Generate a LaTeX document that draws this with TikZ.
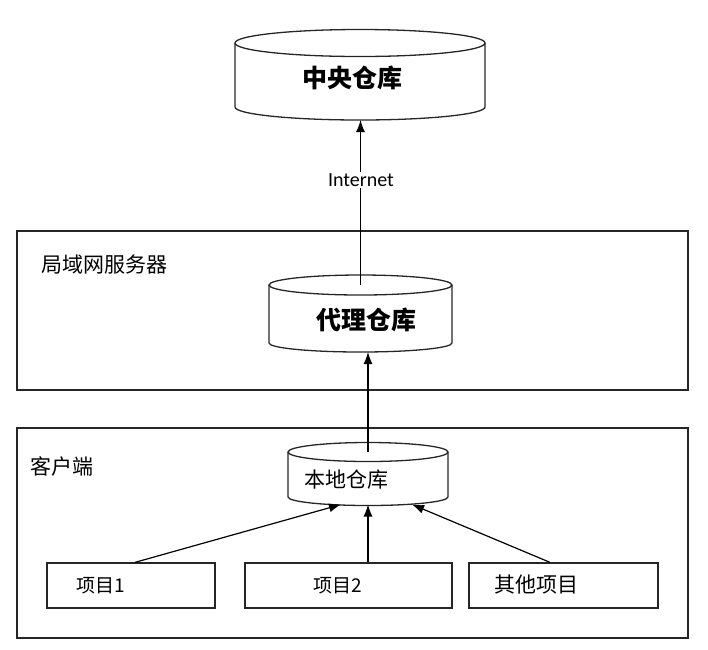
\documentclass[tikz,border=0pt]{standalone}
\usepackage{fontspec}
\setmainfont{Carlito}
\newfontfamily\cjk{Noto Sans CJK SC}
\usetikzlibrary{arrows.meta}
\newcommand\drawcyl[6]{%
  \draw[cylline] (#1-#2,#3) -- (#1-#2,#5) arc[start angle=180,end angle=360,x radius=#2pt,y radius=#6pt] -- (#1+#2,#3);
  \draw[cylline] (#1,#3) ellipse[x radius=#2pt,y radius=#4pt];}
\begin{document}
\begin{tikzpicture}[x=1pt,y=-1pt,
  arr/.style={line width=1.2pt,-{Latex[length=12pt,width=9pt]}},
  frame/.style={draw=black!85, line width=1.3pt, inner sep=0pt},
  cylline/.style={draw=black!85, line width=1.3pt},
  ghost/.style={inner sep=0pt, outer sep=0pt},
  big/.style={font=\cjk\bfseries\fontsize{25}{25}\selectfont, inner sep=0pt},
  mid/.style={font=\cjk\fontsize{21}{21}\selectfont, inner sep=0pt},
  small/.style={font=\cjk\fontsize{19}{19}\selectfont, inner sep=0pt}]
\useasboundingbox (0,0) rectangle (708,649);
% outer frames
\node[frame, minimum width=671pt, minimum height=159pt] (lan) at (352.5,310.5) {};
\node[frame, minimum width=671pt, minimum height=210pt] (client) at (352.5,533) {};
\node[mid, anchor=west] (lanlbl) at (41,265) {局域网服务器};
\node[mid, anchor=west] (clientlbl) at (30,466) {客户端};
% cylinders
\drawcyl{360}{125}{43}{13.5}{107}{13}
\node[ghost, minimum width=250pt, minimum height=90.5pt] (central) at (360,74.75) {};
\node[big] (centraltxt) at (352,78) {中央仓库};
\drawcyl{360.5}{91.5}{285}{10}{343}{9}
\node[ghost, minimum width=183pt, minimum height=77pt] (proxy) at (360.5,313.5) {};
\node[big] (proxytxt) at (366,320) {代理仓库};
\drawcyl{368}{80}{452}{9.5}{497}{8.5}
\node[ghost, minimum width=160pt, minimum height=63pt] (local) at (368,474) {};
\node[mid] (localtxt) at (346,480) {本地仓库};
% items
\node[frame, minimum width=168pt, minimum height=45pt] (item1) at (131,585.5) {};
\node[frame, minimum width=207pt, minimum height=45pt] (item2) at (348.5,585.5) {};
\node[frame, minimum width=189pt, minimum height=45pt] (other) at (563.5,585.5) {};
\node[small] (item1txt) at (101,586) {项目1};
\node[small] (item2txt) at (338,586) {项目2};
\node[mid] (othertxt) at (536,585) {其他项目};
% connectors
\draw[arr] ([yshift=-10pt]proxy.north) -- (central.south -| proxy.north);
\node[fill=white, inner sep=2pt, font=\fontsize{20}{20}\selectfont] (inet) at (361,180) {Internet};
\draw[arr] ([yshift=-9.5pt]local.north) -- (proxy.south -| local.north);
\draw[arr] ([xshift=4pt]item1.north) -- ([xshift=-27pt,yshift=1pt]local.south);
\draw[arr] (item2.north -| local.south) -- ([yshift=1pt]local.south);
\draw[arr] ([xshift=-13.5pt]other.north) -- ([xshift=44pt,yshift=1pt]local.south);
\end{tikzpicture}
\end{document}
